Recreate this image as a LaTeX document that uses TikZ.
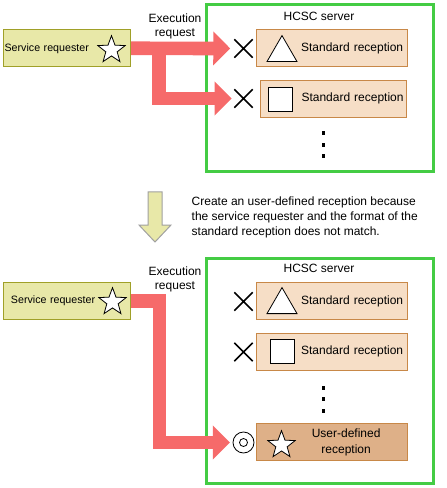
\documentclass[tikz,border=0pt]{standalone}
\usepackage{fontspec}
\setmainfont{Liberation Sans}
\usetikzlibrary{arrows.meta,shapes.geometric,shapes.misc}

\definecolor{reqfill}{RGB}{232,232,168}
\definecolor{reqline}{RGB}{160,160,40}
\definecolor{srvgreen}{RGB}{68,204,68}
\definecolor{rcpfill}{RGB}{246,222,198}
\definecolor{rcpline}{RGB}{200,136,72}
\definecolor{udffill}{RGB}{222,176,136}
\definecolor{flowred}{RGB}{246,106,106}
\definecolor{dwnline}{RGB}{160,160,160}

\tikzset{
  srvframe/.style={draw=srvgreen, line width=2.25pt},
  requester/.style={draw=reqline, fill=reqfill, line width=0.75pt, minimum width=95pt, minimum height=28pt, align=left, font=\fontsize{8}{9.6}\selectfont},
  reception/.style={draw=rcpline, fill=rcpfill, line width=0.75pt, minimum width=113pt, minimum height=28pt, text width=107pt, inner xsep=3pt, align=right},
  starmark/.style={star, star points=5, star point ratio=2.4, draw, fill=white, line width=0.6pt, minimum size=21.5pt, inner sep=0pt},
  trimark/.style={regular polygon, regular polygon sides=3, draw, fill=white, line width=0.6pt, minimum size=26pt, inner sep=0pt},
  sqmark/.style={rectangle, draw, fill=white, line width=0.6pt, minimum size=18pt, inner sep=0pt},
  ngmark/.style={cross out, draw, line width=1.1pt, minimum size=12.75pt, inner sep=0pt},
  okmark/.style={circle, draw, line width=0.6pt, minimum size=15.75pt, inner sep=0pt, path picture={\draw [line width=0.6pt] (path picture bounding box.center) circle (4);}},
  reqflow/.style={draw=flowred, line width=10.25pt, line join=miter, -{Triangle[width=24.75pt, length=12.75pt]}},
}

\begin{document}
\begin{tikzpicture}[x=0.75pt,y=0.75pt,yscale=-1,xscale=1, font=\fontsize{9}{10.5}\selectfont]
\useasboundingbox (0,0) rectangle (446,488);

%Before: HCSC server with standard receptions only
\draw [srvframe] (206,5) rectangle (433,171.5) ;
\node (srv1) at (319,16.5) {HCSC server};

\node [requester, text width=94pt, inner xsep=0.5pt] (req1) at (67.3,48.3) {Service requester};
\node [starmark] (st1) at (111.5,50) {};

\node [reception] (std1) at (331.8,48.3) {Standard reception};
\node [reception, minimum width=109.5pt, text width=105pt, inner xsep=2.25pt] (std2) at (333.6,98.7) {Standard reception};
\node [trimark, anchor=side 2] (tri1) at (282,62) {};
\node [sqmark] (sq1) at (280.5,99) {};
\foreach \y in {133.5,145.3,156} \fill (321.7,\y-2) rectangle ++(3.7,4) ;

\node [ngmark] (ng1) at (243.5,48.5) {};
\node [ngmark] (ng2) at (243.5,98.5) {};

% Execution request
\coordinate (fork1) at (159,48.3);
\draw [reqflow, shorten >=3pt] (req1.east) -- (ng1.west) ;
\draw [reqflow, shorten >=2pt] (fork1) |- (ng2.west) ;
\node [align=center] (exe1) at (175,26) {Execution\\request};

%Shape: down arrow
\draw [draw=dwnline, fill=reqfill, line width=0.75pt] (148,192) -- (162,192) -- (162,225) -- (171,225) -- (155,242) -- (139,225) -- (148,225) -- cycle ;
% Text Node
\node [anchor=west, align=left, font=\fontsize{9}{11.25}\selectfont] (why) at (187,217.5) {Create an user-defined reception because\\the service requester and the format of the\\standard reception does not match.};

%After: user-defined reception added
\draw [srvframe] (206,258) rectangle (433,483) ;
\node (srv2) at (319,268.5) {HCSC server};

\node [requester, text width=84.5pt, inner xsep=5.25pt] (req2) at (67.3,300.8) {Service requester};
\node [starmark] (st2) at (112.5,302) {};

\node [reception] (std3) at (331.8,301.3) {Standard reception};
\node [reception] (std4) at (331.8,351.7) {Standard reception};
\node [trimark, anchor=side 2] (tri2) at (282,314) {};
\node [sqmark] (sq2) at (282,351.5) {};
\foreach \y in {388,399.3,411.3} \fill (321.7,\y-2) rectangle ++(3.7,4) ;

\node [reception, fill=udffill, text width=113pt, inner xsep=0pt] (udf) at (331.8,442.2) {\parbox{91.5pt}{\centering\fontsize{9}{12}\selectfont User-defined\\reception}};
\node [starmark] (st3) at (281.5,445) {};

\node [ngmark] (ng3) at (243.5,301.5) {};
\node [ngmark] (ng4) at (243.5,352) {};
\node [okmark] (ok) at (243.5,442.5) {};

% Execution request
\draw [reqflow, shorten >=2pt] (req2.east) -- ++(28.4,0) |- (ok.west) ;
\node [align=center] (exe2) at (175,279) {Execution\\request};

\end{tikzpicture}
\end{document}
